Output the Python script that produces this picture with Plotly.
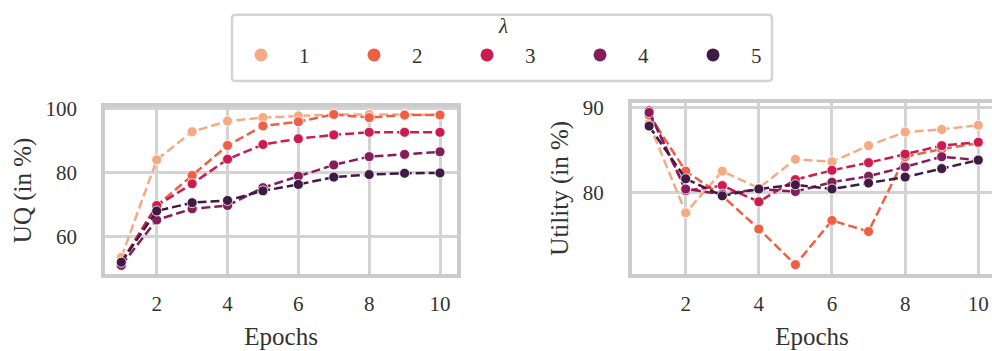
import plotly.graph_objects as go

# ---------------- data ----------------
epochs = [1, 2, 3, 4, 5, 6, 7, 8, 9, 10]
lambda_labels = ["1", "2", "3", "4", "5"]
colors = ["#f6aa84", "#ee5f45", "#cb1b4f", "#841e5a", "#3f1a42"]

uq_lambda1 = [53.6, 84.1, 92.9, 96.2, 97.3, 97.8, 98.3, 98.3, 98.3, 98.2]
uq_lambda2 = [52.0, 69.8, 79.2, 88.6, 94.7, 96.0, 98.3, 97.3, 98.1, 98.1]
uq_lambda3 = [52.0, 69.8, 76.6, 84.3, 88.9, 90.7, 91.9, 92.7, 92.7, 92.7]
uq_lambda4 = [51.1, 65.3, 68.8, 69.8, 75.4, 79.0, 82.5, 85.1, 85.8, 86.6]
uq_lambda5 = [52.1, 68.1, 70.7, 71.4, 74.4, 76.4, 78.7, 79.5, 79.9, 80.0]

util_lambda1 = [88.1, 77.6, 82.5, 80.5, 83.9, 83.6, 85.5, 87.1, 87.4, 87.9]
util_lambda2 = [89.1, 82.5, 79.6, 75.7, 71.5, 76.7, 75.4, 84.2, 85.1, 85.8]
util_lambda3 = [89.6, 80.2, 80.8, 78.9, 81.5, 82.6, 83.5, 84.5, 85.5, 85.9]
util_lambda4 = [89.4, 80.4, 79.8, 80.4, 80.1, 81.2, 81.9, 83.0, 84.2, 83.8]
util_lambda5 = [87.8, 81.6, 79.6, 80.4, 80.9, 80.4, 81.1, 81.8, 82.8, 83.8]

x_ticks = [2, 4, 6, 8, 10]
uq_ticks = [60, 80, 100]
util_ticks = [80, 90]

uq_series = [uq_lambda1, uq_lambda2, uq_lambda3, uq_lambda4, uq_lambda5]
util_series = [util_lambda1, util_lambda2, util_lambda3, util_lambda4, util_lambda5]

# ---------------- figure ----------------
W, H = 992, 351
FONT = "Liberation Serif"
GRID = "#d3d3d3"
FRAME = "#cccccc"
TXT = "#333333"

fig = go.Figure()

for i, lab in enumerate(lambda_labels):
    for series, xa, ya in ((uq_series, "x", "y"), (util_series, "x2", "y2")):
        fig.add_trace(go.Scatter(
            x=epochs, y=series[i], xaxis=xa, yaxis=ya,
            mode="lines+markers",
            line=dict(color=colors[i], width=2.5, dash="9px,4px"),
            marker=dict(color=colors[i], size=10, line=dict(color="white", width=0.8)),
            showlegend=False, hoverinfo="skip",
        ))

# legend-only entries (marker only, like the reference legend)
for i, lab in enumerate(lambda_labels):
    fig.add_trace(go.Scatter(
        x=[None], y=[None], mode="markers", name=lab,
        marker=dict(color=colors[i], size=13),
        showlegend=True,
    ))

def px_x(p):
    return p / W

def px_y(p):
    return 1 - p / H

common_x = dict(
    tickvals=x_ticks, showgrid=True, gridcolor=GRID, gridwidth=2.5,
    showline=True, linecolor=FRAME, linewidth=4, mirror=True,
    ticks="outside", ticklen=8, tickcolor="rgba(0,0,0,0)",
    zeroline=False, tickfont=dict(family=FONT, size=21, color=TXT),
    title=dict(text="Epochs", font=dict(family=FONT, size=25, color=TXT), standoff=13),
)
common_y = dict(
    showgrid=True, gridcolor=GRID, gridwidth=2.5,
    showline=True, linecolor=FRAME, linewidth=4,
    ticks="outside", ticklen=20, tickcolor="rgba(0,0,0,0)",
    zeroline=False, tickfont=dict(family=FONT, size=21, color=TXT),
)

fig.update_layout(
    width=W, height=H,
    margin=dict(l=0, r=0, t=0, b=0),
    paper_bgcolor="white", plot_bgcolor="white",
    font=dict(family=FONT, color=TXT),
    xaxis=dict(domain=[px_x(105.3), px_x(457)], range=[0.548, 10.48], anchor="y", **common_x),
    yaxis=dict(domain=[px_y(272), px_y(100.3)], range=[48.4, 100.7], anchor="x",
               tickvals=uq_ticks, mirror=True,
               title=dict(text="UQ (in %)", font=dict(family=FONT, size=25, color=TXT), standoff=8),
               **common_y),
    xaxis2=dict(domain=[px_x(632), 1.0], range=[0.532, 10.375], anchor="y2", **common_x),
    yaxis2=dict(domain=[px_y(272), px_y(96)], range=[70.4, 90.57], anchor="x2",
                tickvals=util_ticks, mirror=False,
                title=dict(text="Utility (in %)", font=dict(family=FONT, size=25, color=TXT), standoff=8),
                **common_y),
    legend=dict(
        orientation="h",
        x=px_x(223), xanchor="left", y=px_y(47.5), yanchor="middle",
        bgcolor="rgba(0,0,0,0)", borderwidth=0,
        entrywidth=32, entrywidthmode="pixels",
        itemwidth=66,
        font=dict(family=FONT, size=21, color=TXT),
    ),
)

# legend title
fig.add_annotation(text="<i>λ</i>", xref="paper", yref="paper",
                   x=px_x(503), y=px_y(17), xanchor="center", yanchor="middle",
                   showarrow=False, font=dict(family=FONT, size=21, color=TXT))

# rounded legend frame
x0, x1, y0, y1, r = 232, 772, 6, 74, 4
path = (
    f"M {px_x(x0 + r)},{px_y(y0)} L {px_x(x1 - r)},{px_y(y0)} "
    f"Q {px_x(x1)},{px_y(y0)} {px_x(x1)},{px_y(y0 + r)} "
    f"L {px_x(x1)},{px_y(y1 - r)} "
    f"Q {px_x(x1)},{px_y(y1)} {px_x(x1 - r)},{px_y(y1)} "
    f"L {px_x(x0 + r)},{px_y(y1)} "
    f"Q {px_x(x0)},{px_y(y1)} {px_x(x0)},{px_y(y1 - r)} "
    f"L {px_x(x0)},{px_y(y0 + r)} "
    f"Q {px_x(x0)},{px_y(y0)} {px_x(x0 + r)},{px_y(y0)} Z"
)
fig.add_shape(type="path", path=path, xref="paper", yref="paper",
              line=dict(color="#d4d4d4", width=2.5), fillcolor="white", layer="below")

fig.write_html("out.html")
